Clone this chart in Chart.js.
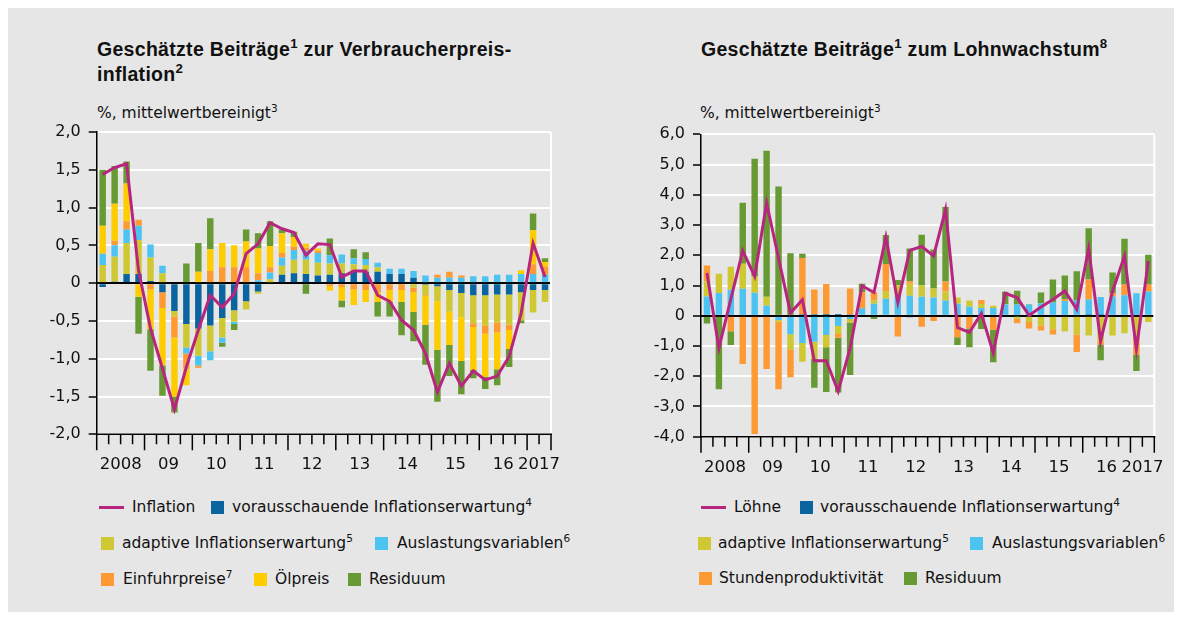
<!DOCTYPE html>
<html>
<head>
<meta charset="utf-8">
<script src="https://cdn.jsdelivr.net/npm/chart.js@4.4.1/dist/chart.umd.min.js"></script>
<style>
body{margin:0;width:1182px;height:618px;background:#fff;font-family:"DejaVu Sans",sans-serif;color:#111;position:relative;overflow:hidden}
#bg{position:absolute;left:8px;top:8px;width:1166px;height:604px;background:#e6e6e6}
.t{position:absolute;font-family:"Liberation Sans",Arial,sans-serif;font-weight:bold;font-size:19.5px;letter-spacing:0.3px;line-height:25px;white-space:nowrap}
.s{position:absolute;font-size:15.5px;line-height:18px;white-space:nowrap}
canvas{position:absolute}
.lg{position:absolute;font-size:15.5px;line-height:20px;white-space:nowrap}
.sq{position:absolute;width:13px;height:13px}
.ln{position:absolute;width:25px;height:3px}
sup{font-size:0.68em;line-height:0;vertical-align:0.6em}
</style>
</head>
<body>
<div id="bg"></div>
<div class="t" style="left:97px;top:37px">Geschätzte Beiträge<sup>1</sup> zur Verbraucherpreis-<br>inflation<sup>2</sup></div>
<div class="s" style="left:97px;top:104px">%, mittelwertbereinigt<sup>3</sup></div>
<div class="t" style="left:701px;top:37px">Geschätzte Beiträge<sup>1</sup> zum Lohnwachstum<sup>8</sup></div>
<div class="s" style="left:700px;top:104px">%, mittelwertbereinigt<sup>3</sup></div>
<canvas id="cpi" width="530" height="365" style="left:30px;top:120px"></canvas>
<canvas id="wage" width="530" height="365" style="left:634px;top:122px"></canvas>
<div id="legend"></div>
<script>
// Quartale 2008 Q1 - 2017 Q2
const quarters = [];
for (let y = 2008; y <= 2017; y++) {
  for (let q = 1; q <= 4; q++) {
    if (y < 2017 || q <= 2) quarters.push(y + 'Q' + q);
  }
}
const yearLabels = ['2008', '09', '10', '11', '12', '13', '14', '15', '16', '2017'];

// Verbraucherpreisinflation
const inflation   = [1.44, 1.53, 1.58, 0.17, -0.60, -1.13, -1.67, -1.11, -0.62, -0.16, -0.32, -0.14, 0.39, 0.52, 0.80, 0.72, 0.67, 0.37, 0.52, 0.51, 0.08, 0.16, 0.16, -0.16, -0.24, -0.49, -0.62, -0.93, -1.44, -1.06, -1.36, -1.16, -1.28, -1.23, -0.97, -0.40, 0.53, 0.08];
const cpiForward  = [-0.05, 0.02, 0.12, 0.12, 0.03, -0.12, -0.37, -0.54, -0.60, -0.56, -0.46, -0.36, -0.24, -0.11, 0.01, 0.11, 0.13, 0.12, 0.10, 0.11, 0.13, 0.16, 0.15, 0.15, 0.12, 0.12, 0.07, -0.02, -0.04, -0.09, -0.13, -0.16, -0.16, -0.15, -0.15, -0.12, -0.09, -0.09];
const cpiAdaptive = [0.24, 0.33, 0.41, 0.45, 0.31, 0.13, -0.07, -0.31, -0.36, -0.34, -0.26, -0.15, -0.11, -0.03, 0.04, 0.12, 0.18, 0.19, 0.17, 0.15, 0.13, 0.09, 0.09, 0.06, 0, 0, -0.06, -0.14, -0.20, -0.29, -0.32, -0.37, -0.40, -0.37, -0.40, -0.37, -0.30, -0.16];
const cpiSlack    = [0.15, 0.15, 0.18, 0.19, 0.17, 0.10, 0, -0.08, -0.13, -0.12, -0.07, -0.03, 0, 0.04, 0.09, 0.11, 0.13, 0.12, 0.13, 0.11, 0.12, 0.08, 0.08, 0.06, 0.07, 0.07, 0.09, 0.10, 0.07, 0.07, 0.07, 0.09, 0.09, 0.11, 0.11, 0.12, 0.12, 0.11];
const cpiImport   = [0, 0.06, 0.11, 0.08, -0.08, -0.21, -0.28, -0.20, -0.03, 0.16, 0.21, 0.21, 0.21, 0.09, 0.07, 0.06, 0.04, 0.04, 0.03, -0.04, -0.05, -0.08, -0.09, -0.12, -0.09, -0.09, -0.06, -0.01, 0.04, 0.08, 0.03, -0.05, -0.11, -0.13, -0.07, 0, 0.13, 0.11];
const cpiOil      = [0.37, 0.49, 0.50, -0.18, -0.53, -0.76, -0.78, -0.22, 0.15, 0.29, 0.32, 0.29, 0.34, 0.33, 0.28, 0.26, 0.13, 0.05, 0.03, -0.06, -0.18, -0.21, -0.16, -0.13, -0.16, -0.16, -0.26, -0.38, -0.64, -0.44, -0.58, -0.57, -0.57, -0.49, -0.25, 0.05, 0.45, 0.06];
const cpiResid    = [0.74, 0.50, 0.29, -0.49, -0.55, -0.40, -0.21, 0.26, 0.38, 0.41, -0.05, -0.08, 0.16, 0.20, 0.33, 0.05, 0.07, -0.14, 0, 0.22, -0.09, 0.12, 0.09, -0.19, -0.19, -0.44, -0.39, -0.53, -0.69, -0.41, -0.44, -0.11, -0.16, -0.21, -0.24, -0.04, 0.22, 0.05];

// Lohnwachstum
const wages      = [1.41, -1.07, 0.55, 2.15, 1.30, 3.73, 1.91, 0.09, 0.53, -1.49, -1.49, -2.50, -1.07, 0.99, 0.77, 2.60, 0.44, 2.16, 2.29, 1.98, 3.51, -0.39, -0.55, 0.07, -1.23, 0.74, 0.60, 0.01, 0.29, 0.54, 0.82, 0.21, 2.22, -0.84, 0.81, 1.97, -1.11, 1.81];
const wForward   = [0, 0, 0, 0, 0, 0, 0, 0, 0.05, 0.05, 0.06, 0.06, 0.04, 0.03, 0, 0, 0, -0.05, 0, 0, -0.04, 0, 0, 0, -0.04, -0.04, -0.02, -0.02, -0.03, 0, 0, 0, 0.02, 0.02, 0, 0, 0, -0.03];
const wAdaptive  = [0.50, 0.64, 0.76, 0.83, 0.54, 0.30, -0.06, -0.50, -0.62, -0.57, -0.40, -0.26, -0.11, 0, 0.10, 0.26, 0.35, 0.40, 0.37, 0.30, 0.30, 0.20, 0.20, 0.13, 0.07, 0.02, -0.08, -0.19, -0.29, -0.45, -0.52, -0.62, -0.65, -0.84, -0.65, -0.58, -0.67, -0.18];
const wSlack     = [0.64, 0.75, 0.86, 0.89, 0.76, 0.33, -0.14, -0.61, -0.90, -0.86, -0.64, -0.34, -0.11, 0.22, 0.40, 0.56, 0.66, 0.66, 0.63, 0.60, 0.50, 0.40, 0.30, 0.26, 0.26, 0.37, 0.37, 0.36, 0.41, 0.44, 0.49, 0.50, 0.52, 0.60, 0.64, 0.68, 0.74, 0.80];
const wProd      = [0.52, 0, -0.51, -1.60, -3.91, -1.76, -2.23, -0.92, 1.86, 0.82, 0.99, -0.13, 0.86, 0.53, 0.28, 0.89, -0.69, 0.08, -0.36, -0.17, 0.33, -0.71, -0.42, 0.13, -0.42, 0, -0.15, -0.21, -0.17, -0.17, 0.05, -0.58, 0.66, -0.11, 0.10, 0.35, -0.61, 0.23];
const wResid     = [-0.26, -2.43, -0.46, 2.02, 3.89, 4.83, 4.27, 2.07, 0.14, -0.95, -1.48, -1.81, -1.74, 0.28, -0.11, 0.96, 0.17, 1.08, 1.68, 1.29, 2.47, -0.26, -0.62, -0.44, -1.08, 0.40, 0.46, 0.02, 0.36, 0.76, 0.79, 0.97, 1.69, -0.52, 0.69, 1.52, -0.55, 0.99];

const C = {
  blue: '#0a64a0', olive: '#cfc832', light: '#4cc3f0', orange: '#fd9a33',
  yellow: '#ffcc00', green: '#679a33', line: '#b8257f'
};
const FONT = '"DejaVu Sans", sans-serif';

function yearTick(i) {
  for (let k = 0; k < yearLabels.length; k++) {
    const start = k * 4;
    const count = Math.min(4, quarters.length - start);
    if (i === start + count / 2 - 1) return yearLabels[k];
  }
  return '';
}

// zero line over bars, quarter/year ticks, white right edge
const axisDeco = {
  id: 'axisDeco',
  beforeDatasetDraw(chart, args) {
    if (args.meta.type !== 'line') return;
    const {ctx, chartArea: a, scales: {y}} = chart;
    const y0 = y.getPixelForValue(0);
    ctx.save();
    ctx.strokeStyle = '#000';
    ctx.lineWidth = 1.5;
    ctx.beginPath();
    ctx.moveTo(a.left, y0);
    ctx.lineTo(a.right, y0);
    ctx.stroke();
    ctx.restore();
  },
  afterDraw(chart) {
    const {ctx, chartArea: a, scales: {x}} = chart;
    const n = chart.data.labels.length;
    const w = x.getPixelForValue(1) - x.getPixelForValue(0);
    const x0 = x.getPixelForValue(0) - w / 2;
    ctx.save();
    ctx.strokeStyle = '#fff';
    ctx.lineWidth = 2;
    ctx.beginPath();
    ctx.moveTo(a.right, a.top);
    ctx.lineTo(a.right, a.bottom);
    ctx.stroke();
    ctx.strokeStyle = '#000';
    ctx.lineWidth = 1.5;
    ctx.beginPath();
    ctx.moveTo(a.left, a.bottom);
    ctx.lineTo(a.right + 1, a.bottom);
    for (let i = 0; i <= n; i++) {
      const px = x0 + i * w;
      const big = i % 4 === 0 || i === n;
      ctx.moveTo(px, a.bottom);
      ctx.lineTo(px, a.bottom + (big ? 16 : 10));
    }
    ctx.stroke();
    ctx.restore();
  }
};

function bar(label, data, color) {
  return { label, data, backgroundColor: color, borderWidth: 0, stack: 'a', order: 1 };
}
function line(label, data) {
  return { type: 'line', label, data, borderColor: C.line, borderWidth: 3, pointRadius: 0, tension: 0, stack: 'line', order: 0 };
}

function makeChart(id, datasets, yMin, yMax, step, box) {
  return new Chart(document.getElementById(id), {
    type: 'bar',
    data: { labels: quarters, datasets },
    options: {
      responsive: false,
      animation: false,
      devicePixelRatio: 1,
      layout: { padding: { top: box.top, right: box.right, left: 0, bottom: 0 } },
      plugins: { legend: { display: false }, tooltip: { enabled: false } },
      datasets: { bar: { categoryPercentage: 1, barPercentage: 0.54 } },
      scales: {
        x: {
          stacked: true,
          afterFit: s => { s.height = box.xh; },
          grid: { drawOnChartArea: false, tickLength: 16, tickColor: 'rgba(0,0,0,0)' },
          border: { display: false },
          ticks: {
            autoSkip: false, maxRotation: 0, labelOffset: 6, padding: 5,
            color: '#111', font: { size: 16.5, family: FONT },
            callback: (v, i) => yearTick(i)
          }
        },
        y: {
          stacked: true,
          min: yMin, max: yMax,
          afterFit: s => { s.width = box.yw; },
          ticks: {
            stepSize: step, padding: 8, color: '#111', font: { size: 16, family: FONT, lineHeight: 0.5 },
            callback: v => v === 0 ? '0' : v.toFixed(1).replace('.', ',')
          },
          grid: {
            color: c => c.tick && c.tick.value === 0 ? '#000' : '#fff',
            lineWidth: 2, tickColor: '#000', tickLength: 8, tickWidth: 1.5
          },
          border: { color: '#000', width: 1.5 }
        }
      }
    },
    plugins: [axisDeco]
  });
}

makeChart('cpi', [
  bar('vorausschauende Inflationserwartung', cpiForward, C.blue),
  bar('adaptive Inflationserwartung', cpiAdaptive, C.olive),
  bar('Auslastungsvariablen', cpiSlack, C.light),
  bar('Einfuhrpreise', cpiImport, C.orange),
  bar('Ölpreis', cpiOil, C.yellow),
  bar('Residuum', cpiResid, C.green),
  line('Inflation', inflation)
], -2, 2, 0.5, { top: 12, right: 9, yw: 66.7, xh: 50.7 });

makeChart('wage', [
  bar('vorausschauende Inflationserwartung', wForward, C.blue),
  bar('Auslastungsvariablen', wSlack, C.light),
  bar('adaptive Inflationserwartung', wAdaptive, C.olive),
  bar('Stundenproduktivität', wProd, C.orange),
  bar('Residuum', wResid, C.green),
  line('Löhne', wages)
], -4, 6, 1, { top: 12.3, right: 9.7, yw: 67, xh: 50.3 });

// Legenden (HTML)
const legendItems = [
  ['line', C.line, 'Inflation', '', 99, 132, 507],
  ['sq', C.blue, 'vorausschauende Inflationserwartung', '4', 211, 232, 507],
  ['sq', C.olive, 'adaptive Inflationserwartung', '5', 101, 122, 543],
  ['sq', C.light, 'Auslastungsvariablen', '6', 375, 397, 543],
  ['sq', C.orange, 'Einfuhrpreise', '7', 101, 123, 579],
  ['sq', C.yellow, 'Ölpreis', '', 254, 275, 579],
  ['sq', C.green, 'Residuum', '', 348, 369, 579],
  ['line', C.line, 'Löhne', '', 701, 734, 507],
  ['sq', C.blue, 'vorausschauende Inflationserwartung', '4', 800, 820, 507],
  ['sq', C.olive, 'adaptive Inflationserwartung', '5', 698, 718, 543],
  ['sq', C.light, 'Auslastungsvariablen', '6', 970, 992, 543],
  ['sq', C.orange, 'Stundenproduktivität', '', 699, 719, 578],
  ['sq', C.green, 'Residuum', '', 904, 925, 578]
];
const legend = document.getElementById('legend');
legendItems.forEach(([kind, color, text, note, mx, tx, cy]) => {
  const m = document.createElement('div');
  m.className = kind === 'line' ? 'ln' : 'sq';
  m.style.background = color;
  m.style.left = mx + 'px';
  m.style.top = (kind === 'line' ? cy - 1.5 : cy - 6.5) + 'px';
  legend.appendChild(m);
  const t = document.createElement('div');
  t.className = 'lg';
  t.style.left = tx + 'px';
  t.style.top = (cy - 10) + 'px';
  t.textContent = text;
  if (note) {
    const s = document.createElement('sup');
    s.textContent = note;
    t.appendChild(s);
  }
  legend.appendChild(t);
});
</script>
</body>
</html>
